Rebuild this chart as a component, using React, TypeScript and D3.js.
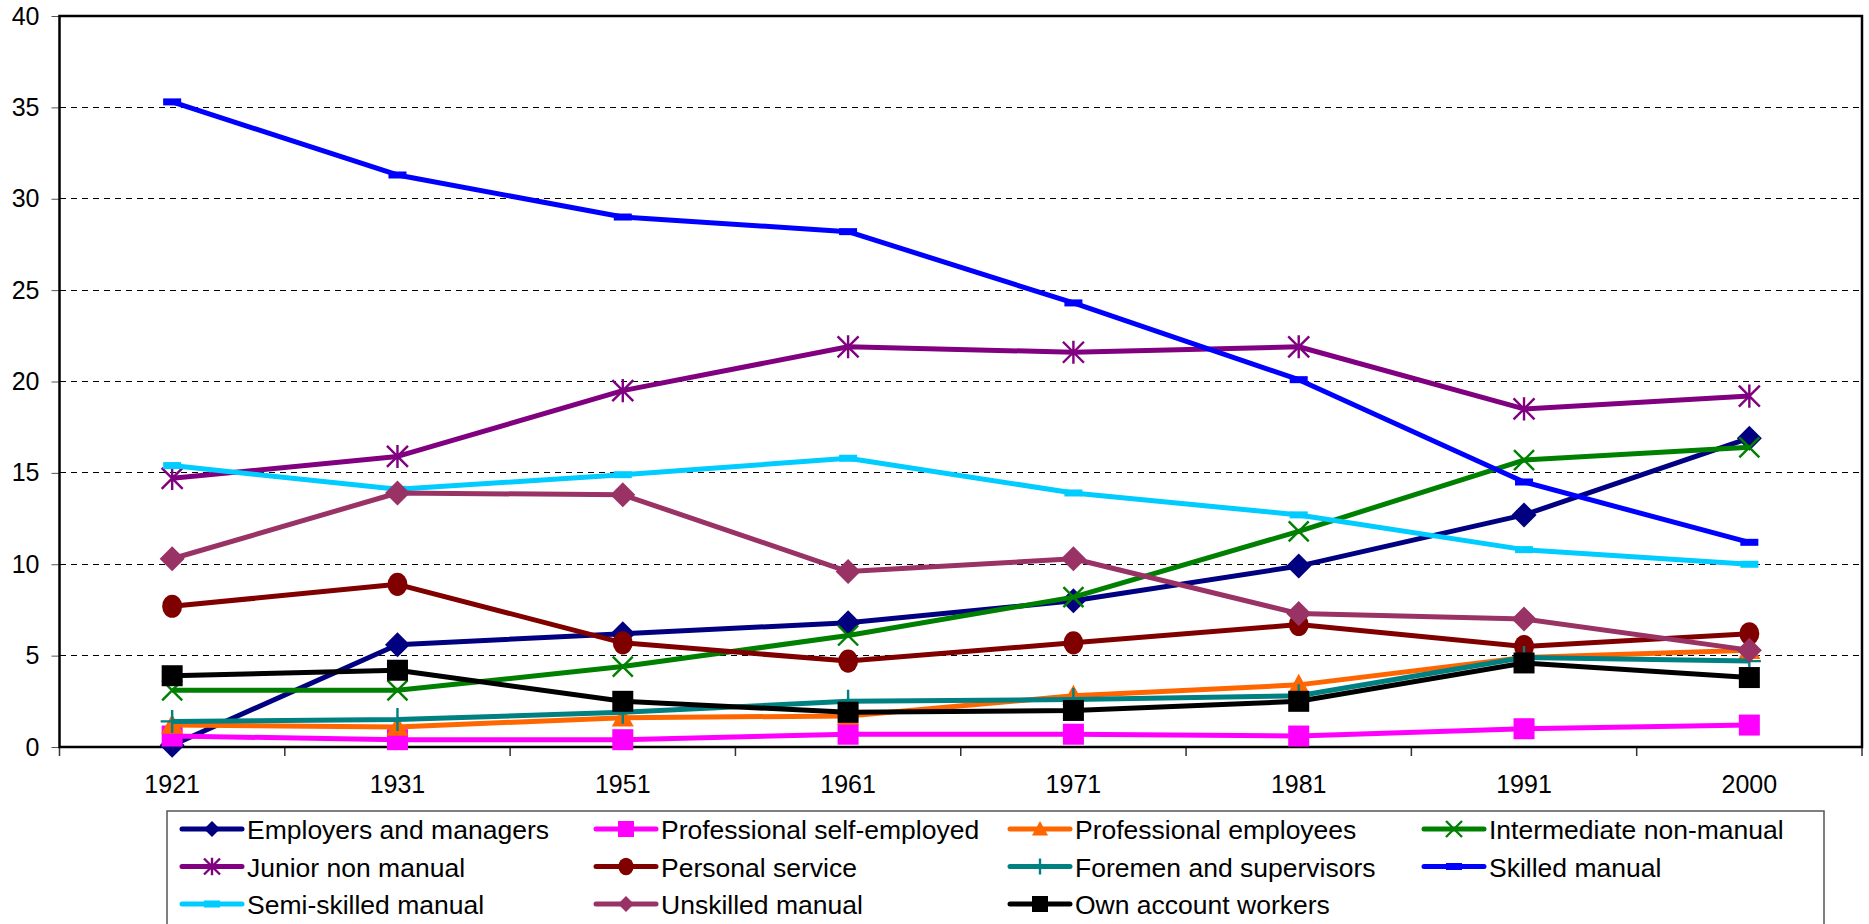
import React, { useEffect, useRef } from 'react';
import * as d3 from 'd3';

const years = ['1921', '1931', '1951', '1961', '1971', '1981', '1991', '2000'];

const employersManagers = [0.1, 5.6, 6.2, 6.8, 8.0, 9.9, 12.7, 16.9];
const profSelfEmployed = [0.6, 0.4, 0.4, 0.7, 0.7, 0.6, 1.0, 1.2];
const profEmployees = [1.2, 1.1, 1.6, 1.7, 2.8, 3.4, 4.9, 5.3];
const intermediateNonManual = [3.1, 3.1, 4.4, 6.1, 8.2, 11.8, 15.7, 16.4];
const juniorNonManual = [14.7, 15.9, 19.5, 21.9, 21.6, 21.9, 18.5, 19.2];
const personalService = [7.7, 8.9, 5.7, 4.7, 5.7, 6.7, 5.5, 6.2];
const foremenSupervisors = [1.4, 1.5, 1.9, 2.5, 2.6, 2.8, 4.9, 4.7];
const skilledManual = [35.3, 31.3, 29.0, 28.2, 24.3, 20.1, 14.5, 11.2];
const semiSkilledManual = [15.4, 14.1, 14.9, 15.8, 13.9, 12.7, 10.8, 10.0];
const unskilledManual = [10.3, 13.9, 13.8, 9.6, 10.3, 7.3, 7.0, 5.3];
const ownAccountWorkers = [3.9, 4.2, 2.5, 1.9, 2.0, 2.5, 4.6, 3.8];

const yTicks = [0, 5, 10, 15, 20, 25, 30, 35, 40];

const series = [
  { name: 'Employers and managers', values: employersManagers, color: '#000080', marker: 'diamond' },
  { name: 'Professional self-employed', values: profSelfEmployed, color: '#FF00FF', marker: 'square' },
  { name: 'Professional employees', values: profEmployees, color: '#FF6600', marker: 'triangle' },
  { name: 'Intermediate non-manual', values: intermediateNonManual, color: '#008000', marker: 'x' },
  { name: 'Junior non manual', values: juniorNonManual, color: '#800080', marker: 'star' },
  { name: 'Personal service', values: personalService, color: '#800000', marker: 'circle' },
  { name: 'Foremen and supervisors', values: foremenSupervisors, color: '#008080', marker: 'plus' },
  { name: 'Skilled manual', values: skilledManual, color: '#0000FF', marker: 'dash' },
  { name: 'Semi-skilled manual', values: semiSkilledManual, color: '#00CCFF', marker: 'dash' },
  { name: 'Unskilled manual', values: unskilledManual, color: '#993366', marker: 'diamond' },
  { name: 'Own account workers', values: ownAccountWorkers, color: '#000000', marker: 'square' },
];

const W = 1869;
const H = 924;
const FONT = '"Liberation Sans", Arial, sans-serif';

// draw one marker centred at (cx, cy), r is half size
function drawMarker(g, type, cx, cy, r, color) {
  if (type === 'diamond') {
    g.append('path')
      .attr('d', `M${cx},${cy - r}L${cx + r},${cy}L${cx},${cy + r}L${cx - r},${cy}Z`)
      .attr('fill', color);
  } else if (type === 'square') {
    g.append('rect')
      .attr('x', cx - r).attr('y', cy - r)
      .attr('width', 2 * r).attr('height', 2 * r)
      .attr('fill', color);
  } else if (type === 'triangle') {
    g.append('path')
      .attr('d', `M${cx},${cy - r}L${cx + r},${cy + r * 0.8}L${cx - r},${cy + r * 0.8}Z`)
      .attr('fill', color);
  } else if (type === 'circle') {
    g.append('ellipse').attr('cx', cx).attr('cy', cy)
      .attr('rx', r * 0.95).attr('ry', r * 1.1).attr('fill', color);
  } else if (type === 'x') {
    g.append('path')
      .attr('d', `M${cx - r},${cy - r}L${cx + r},${cy + r}M${cx - r},${cy + r}L${cx + r},${cy - r}`)
      .attr('stroke', color).attr('stroke-width', 2.4).attr('fill', 'none');
  } else if (type === 'star') {
    g.append('path')
      .attr('d', `M${cx - r},${cy - r}L${cx + r},${cy + r}M${cx - r},${cy + r}L${cx + r},${cy - r}M${cx},${cy - r * 1.1}L${cx},${cy + r * 1.1}`)
      .attr('stroke', color).attr('stroke-width', 2.4).attr('fill', 'none');
  } else if (type === 'plus') {
    g.append('path')
      .attr('d', `M${cx},${cy - r}L${cx},${cy + r}M${cx - r},${cy}L${cx + r},${cy}`)
      .attr('stroke', color).attr('stroke-width', 2.4).attr('fill', 'none');
  } else if (type === 'dash') {
    g.append('rect')
      .attr('x', cx - r).attr('y', cy - 3.5)
      .attr('width', 2 * r).attr('height', 7)
      .attr('fill', color);
  }
}

function markerSize(type) {
  if (type === 'diamond') return 12.5;
  if (type === 'square') return 10.5;
  if (type === 'triangle') return 11;
  if (type === 'circle') return 10.5;
  if (type === 'x') return 10;
  if (type === 'star') return 10.5;
  if (type === 'plus') return 11.5;
  return 9;
}

export default function App() {
  const svgRef = useRef(null);

  useEffect(() => {
    const svg = d3.select(svgRef.current);
    svg.selectAll('*').remove();

    const left = 59.5;
    const right = 1862;
    const top = 16;
    const bottom = 747;

    const x = d3.scaleBand().domain(years).range([left, right]).padding(0);
    const y = d3.scaleLinear().domain([0, 40]).range([bottom, top]);
    const cx = (d) => x(d) + x.bandwidth() / 2;

    // gridlines
    svg.append('g')
      .selectAll('line')
      .data(yTicks.filter((t) => t > 0 && t < 40))
      .enter()
      .append('line')
      .attr('x1', left).attr('x2', right)
      .attr('y1', (d) => y(d)).attr('y2', (d) => y(d))
      .attr('stroke', '#000')
      .attr('stroke-width', 1)
      .attr('stroke-dasharray', '6,5')
      .attr('shape-rendering', 'crispEdges');

    // y axis
    const yAxis = d3.axisLeft(y).tickValues(yTicks).tickSize(8).tickPadding(12);
    const gy = svg.append('g').attr('transform', `translate(${left},0)`).call(yAxis);
    gy.select('.domain').remove();
    gy.selectAll('.tick line').attr('stroke', '#555');
    gy.selectAll('.tick text')
      .attr('font-family', FONT).attr('font-size', 25).attr('fill', '#000');

    // x axis ticks at band boundaries
    const gx = svg.append('g');
    gx.selectAll('line')
      .data(d3.range(years.length + 1))
      .enter()
      .append('line')
      .attr('x1', (i) => left + i * x.bandwidth())
      .attr('x2', (i) => left + i * x.bandwidth())
      .attr('y1', bottom).attr('y2', bottom + 9)
      .attr('stroke', '#333').attr('stroke-width', 1.5);
    gx.selectAll('text')
      .data(years)
      .enter()
      .append('text')
      .attr('x', (d) => cx(d))
      .attr('y', 793)
      .attr('text-anchor', 'middle')
      .attr('font-family', FONT).attr('font-size', 25)
      .text((d) => d);

    // plot border
    svg.append('rect')
      .attr('x', left).attr('y', top)
      .attr('width', right - left).attr('height', bottom - top)
      .attr('fill', 'none').attr('stroke', '#000').attr('stroke-width', 2.5);

    const line = d3.line().x((d, i) => cx(years[i])).y((d) => y(d));

    series.forEach((s) => {
      const g = svg.append('g');
      g.append('path')
        .attr('d', line(s.values))
        .attr('fill', 'none')
        .attr('stroke', s.color)
        .attr('stroke-width', 5)
        .attr('stroke-linejoin', 'round');
      s.values.forEach((v, i) => {
        drawMarker(g, s.marker, cx(years[i]), y(v), markerSize(s.marker), s.color);
      });
    });

    // legend
    const legend = svg.append('g');
    legend.append('rect')
      .attr('x', 167).attr('y', 811)
      .attr('width', 1824 - 167).attr('height', 140)
      .attr('fill', '#fff').attr('stroke', '#555').attr('stroke-width', 1.5);

    series.forEach((s, i) => {
      const col = i % 4;
      const row = Math.floor(i / 4);
      const lx = 182 + col * 414;
      const ly = 829 + row * 37.5;
      const g = legend.append('g');
      g.append('line')
        .attr('x1', lx).attr('x2', lx + 60)
        .attr('y1', ly).attr('y2', ly)
        .attr('stroke', s.color).attr('stroke-width', 5).attr('stroke-linecap', 'round');
      drawMarker(g, s.marker, lx + 30, ly, 8, s.color);
      g.append('text')
        .attr('x', lx + 65).attr('y', ly + 10)
        .attr('font-family', FONT).attr('font-size', 26.5)
        .text(s.name);
    });
  }, []);

  return (
    <svg
      ref={svgRef}
      width={W}
      height={H}
      style={{ position: 'absolute', left: 0, top: 0, background: '#fff' }}
    />
  );
}
